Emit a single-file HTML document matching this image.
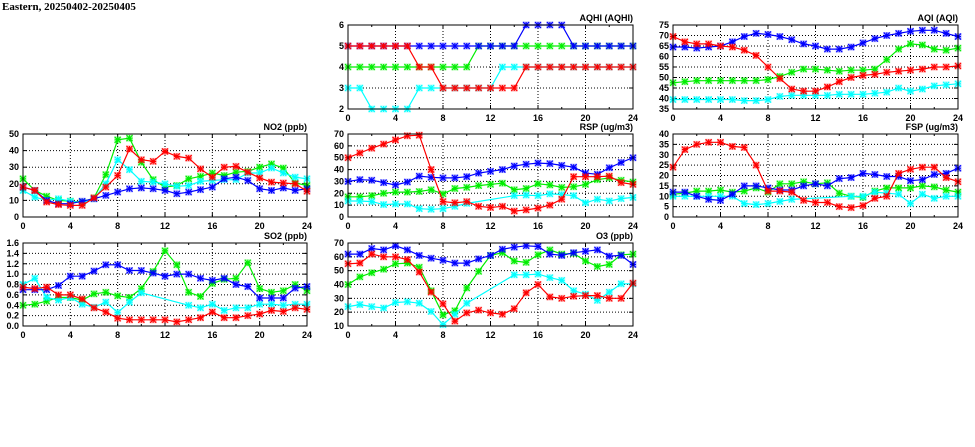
<!DOCTYPE html>
<html><head><meta charset="utf-8"><style>
html,body{margin:0;padding:0;background:#fff;}
svg{display:block;}
text{font-family:"Liberation Sans",sans-serif;font-weight:bold;font-size:9px;fill:#000;}
</style></head><body>
<svg id="chart" width="975" height="447" viewBox="0 0 975 447">
<text x="2" y="10" style="font-family:'Liberation Serif',serif;font-size:11px;font-weight:bold">Eastern, 20250402-20250405</text>
</svg>
<script>
const hours = [0,1,2,3,4,5,6,7,8,9,10,11,12,13,14,15,16,17,18,19,20,21,22,23,24];
const seriesNames = ['red-station','green-station','cyan-station','blue-station'];
const seriesColors = ['#ff0000','#00ee00','#00ffff','#0000ff'];
const drawOrder = [1,2,3,0];

const aqhiRed   = [5,5,5,5,5,5,4,4,3,3,3,3,3,3,3,4,4,4,4,4,4,4,4,4,4];
const aqhiGreen = [4,4,4,4,4,4,4,4,4,4,4,5,5,5,5,5,5,5,5,5,5,5,5,5,5];
const aqhiCyan  = [3,3,2,2,2,2,3,3,3,3,3,3,3,4,4,4,4,4,4,4,4,4,4,4,4];
const aqhiBlue  = [5,5,5,5,5,5,5,5,5,5,5,5,5,5,5,6,6,6,6,5,5,5,5,5,5];
const aqhiTicks = [2,3,4,5,6];

const aqiRed   = [69.5,67,66,66,65,64.5,63,60.5,55,49.5,44.5,43.5,43.5,45.5,48,50,51,51.5,52.5,53,53.5,54,55,55,55.5];
const aqiGreen = [47.5,48,48.5,48.5,48.5,48.5,48.5,48.5,49,50.5,52.5,54,54,53.5,53,53.5,53.5,54,58.5,63.5,66,65.5,63.5,63,64];
const aqiCyan  = [39.5,39.5,39.5,39.5,39.5,39.5,39,39,39.5,41,41.5,41.5,41.5,41.5,42,42,42,42.5,43,45,43.5,44.5,46,46.5,47];
const aqiBlue  = [64.5,64.5,64,64.5,65,67,69.5,71,70.5,69.5,68,66,65,63.5,63.5,64.5,66.5,68.5,70,71,72,72.5,72.5,71,69.5];
const aqiTicks = [35,40,45,50,55,60,65,70,75];

const no2Red   = [18,16,9,7.5,7,7,11.5,18,25,41,34.5,33.5,39.5,36.5,35.5,29,24,30,30.5,27,23.5,21,20.5,20,15.5];
const no2Green = [23,16,12.5,10,9.5,9,11.5,25.5,46.5,47.5,33,22.5,18,19,23,24.5,26.5,25,27,27.5,30,32,29.5,20.5,19];
const no2Cyan  = [16,12,10,11,9.5,8.5,11,20,34.5,28.5,21.5,21,20,18.5,19,21.5,22,22.5,22.5,26.5,26.5,29.5,26.5,24,23];
const no2Blue  = [18,16,10,8,8,9.5,11,13,15,17,17.5,17,16,14,15,16.5,18,23,24,22,17,16,17.5,16,17];
const no2Ticks = [0,10,20,30,40,50];

const rspRed   = [50,54,58,61.5,65,68.5,69,40,13,12,13,9,8,9,5,6,7.5,10,15,34,34,34,34.5,29,27.5];
const rspGreen = [17,17,18,20,21,21,21.5,23,19.5,24,25,26.5,27.5,28.5,23,24,28,27,25,25.5,27.5,31.5,33,31,29.5];
const rspCyan  = [13.5,13.5,13,10.5,11,11,7,6.5,7,9,11.5,null,null,null,18,18.5,18,19.5,19,18,12,15,13.5,15.5,16.5];
const rspBlue  = [30,31.5,31,29,27,29.5,34.5,33.5,33,33,34,37,38.5,40,43,44.5,45.5,45,43.5,42,37,36,41.5,46,50];
const rspTicks = [0,10,20,30,40,50,60,70];

const fspRed   = [24,32.5,35,36,36,34,33.5,25,12.5,12.5,12,8,7,7,5,4.5,5.5,9,10,21,23,24,24,19,17];
const fspGreen = [11,11.5,12.5,12.5,13,12,12.5,14,12,16,16,17,16,16.5,11.5,10,9.5,12.5,14,14,14,15,14.5,13,12];
const fspCyan  = [10,10,10,10,10,10,6.5,6,6.5,7.5,8.5,null,null,null,null,10,10,12,11.5,11,6.5,11,9,10,10];
const fspBlue  = [12,12,10,8.5,8,11,15,15,14,13,13,15,16,15,18.5,19,21,20.5,19.5,19.5,17.5,18,20.5,21,23.5];
const fspTicks = [0,5,10,15,20,25,30,35,40];

const so2Red   = [0.75,0.72,0.75,0.6,0.6,0.52,0.35,0.27,0.15,0.12,0.12,0.12,0.12,0.08,0.12,0.16,0.27,0.16,0.16,0.2,0.23,0.3,0.28,0.35,0.32];
const so2Green = [0.4,0.42,0.48,0.55,0.55,0.5,0.62,0.65,0.58,0.55,0.72,1.05,1.45,1.18,0.65,0.57,0.82,0.9,0.92,1.22,0.72,0.65,0.68,0.8,0.68];
const so2Cyan  = [0.8,0.92,0.55,0.5,0.55,0.42,0.36,0.46,0.26,0.46,0.64,null,null,null,0.4,0.35,0.42,0.3,0.35,0.35,0.42,0.42,0.4,0.42,0.42];
const so2Blue  = [0.7,0.7,0.7,0.78,0.96,0.96,1.06,1.18,1.18,1.07,1.07,1.02,0.96,1.0,1.0,0.92,0.88,0.92,0.8,0.76,0.54,0.54,0.54,0.73,0.76];
const so2Ticks = [0,0.2,0.4,0.6,0.8,1.0,1.2,1.4,1.6];

const o3Red   = [55,55.5,62,60,60,58,49,34.5,26,13.5,19.5,21.5,19.5,18.5,22.5,34,40,31,30,31.5,32,32,30,30,41];
const o3Green = [40,45.5,48.5,51,55,55.5,52.5,35.5,18,21,37.5,49.5,61,63,57,56,61.5,65,62,62.5,57,53,54.5,61.5,62];
const o3Cyan  = [24,25.5,24,23,27,27.5,26.5,20.5,11,18.5,26.5,null,null,null,47,47,47.5,45,43,35.5,33,28.5,34.5,40.5,40.5];
const o3Blue  = [62,62,66,65,68,65,61,59,57.5,55.5,55.5,58.5,61,65.5,67,68,67.5,62,61,63,64,65,60.5,61,54.5];
const o3Ticks = [10,20,30,40,50,60,70];

const xTicks = [0,4,8,12,16,20,24];

const NS = 'http://www.w3.org/2000/svg';
const svg = document.getElementById('chart');
function mk(tag, attrs, parent){
  const e = document.createElementNS(NS, tag);
  for (const k in attrs) e.setAttribute(k, attrs[k]);
  (parent||svg).appendChild(e);
  return e;
}

const panels = [
  {key:'aqhi', title:'AQHI (AQHI)', x0:348, x1:633, y0:25, y1:109, ticks:aqhiTicks, series:[aqhiRed,aqhiGreen,aqhiCyan,aqhiBlue], fmt:v=>String(v)},
  {key:'aqi', title:'AQI (AQI)', x0:673, x1:958, y0:25, y1:109, ticks:aqiTicks, series:[aqiRed,aqiGreen,aqiCyan,aqiBlue], fmt:v=>String(v)},
  {key:'no2', title:'NO2 (ppb)', x0:23, x1:307, y0:134, y1:217, ticks:no2Ticks, series:[no2Red,no2Green,no2Cyan,no2Blue], fmt:v=>String(v)},
  {key:'rsp', title:'RSP (ug/m3)', x0:348, x1:633, y0:134, y1:217, ticks:rspTicks, series:[rspRed,rspGreen,rspCyan,rspBlue], fmt:v=>String(v)},
  {key:'fsp', title:'FSP (ug/m3)', x0:673, x1:958, y0:134, y1:217, ticks:fspTicks, series:[fspRed,fspGreen,fspCyan,fspBlue], fmt:v=>String(v)},
  {key:'so2', title:'SO2 (ppb)', x0:23, x1:307, y0:243, y1:326, ticks:so2Ticks, series:[so2Red,so2Green,so2Cyan,so2Blue], fmt:v=>v.toFixed(1)},
  {key:'o3', title:'O3 (ppb)', x0:348, x1:633, y0:243, y1:326, ticks:o3Ticks, series:[o3Red,o3Green,o3Cyan,o3Blue], fmt:v=>String(v)}
];

panels.forEach(p => {
  const g = mk('g', {});
  
  
  const ymin = p.ticks[0], ymax = p.ticks[p.ticks.length-1];
  const xs = h => p.x0 + (h/24)*(p.x1-p.x0);
  const ys = v => p.y1 - (v-ymin)/(ymax-ymin)*(p.y1-p.y0);

  p.ticks.forEach(t => {
    const y = ys(t);
    if (t !== ymin && t !== ymax) {
      const gl = mk('line', {x1:p.x0, x2:p.x1, y1:y, y2:y, stroke:'#000', 'stroke-width':1, 'stroke-dasharray':'1,2'}, g);
      
      
    }
    mk('line', {x1:p.x0, x2:p.x0+4, y1:y, y2:y, stroke:'#000'}, g);
    mk('line', {x1:p.x1-4, x2:p.x1, y1:y, y2:y, stroke:'#000'}, g);
    const tl = mk('text', {x:p.x0-4, y:y+3, 'text-anchor':'end'}, g);
    tl.textContent = p.fmt(t);
    
    
  });
  for (let h = 0; h <= 24; h += 2) {
    const x = xs(h);
    const len = h % 4 === 0 ? 4 : 2;
    mk('line', {x1:x, x2:x, y1:p.y1, y2:p.y1-len, stroke:'#000'}, g);
    mk('line', {x1:x, x2:x, y1:p.y0, y2:p.y0+len, stroke:'#000'}, g);
  }
  xTicks.forEach(h => {
    const x = xs(h);
    if (h !== 0 && h !== 24) {
      const gl = mk('line', {x1:x, x2:x, y1:p.y0, y2:p.y1, stroke:'#000', 'stroke-width':1, 'stroke-dasharray':'1,2'}, g);
      
      
    }
    const tl = mk('text', {x:x, y:p.y1+12, 'text-anchor':'middle'}, g);
    tl.textContent = String(h);
    
    
  });

  drawOrder.forEach(si => {
    const vals = p.series[si];
    const col = seriesColors[si];
    const sg = mk('g', {}, g);
    
    
    const pts = [];
    vals.forEach((v, i) => { if (v !== null) pts.push([xs(hours[i]), ys(v)]); });
    const line = mk('polyline', {points:pts.map(q=>q[0].toFixed(1)+','+q[1].toFixed(1)).join(' '), fill:'none', stroke:col, 'stroke-width':1.2}, sg);
    
    
    pts.forEach(q => {
      const [x, y] = q;
      const m = mk('g', {}, sg);
      
      
      mk('rect', {x:x-3.5, y:y-3.5, width:7, height:7, fill:col, opacity:0.3}, m);
      const s = 3;
      mk('path', {d:`M${x-s},${y-s}L${x+s},${y+s}M${x-s},${y+s}L${x+s},${y-s}M${x-s},${y}L${x+s},${y}M${x},${y-s}L${x},${y+s}`, stroke:col, 'stroke-width':1.1}, m);
    });
  });

  const fr = mk('rect', {x:p.x0, y:p.y0, width:p.x1-p.x0, height:p.y1-p.y0, fill:'none', stroke:'#000', 'stroke-width':1}, g);
  
  
  const tt = mk('text', {x:p.x1, y:p.y0-4, 'text-anchor':'end'}, g);
  tt.textContent = p.title;
  
  
});
</script>
</body></html>
